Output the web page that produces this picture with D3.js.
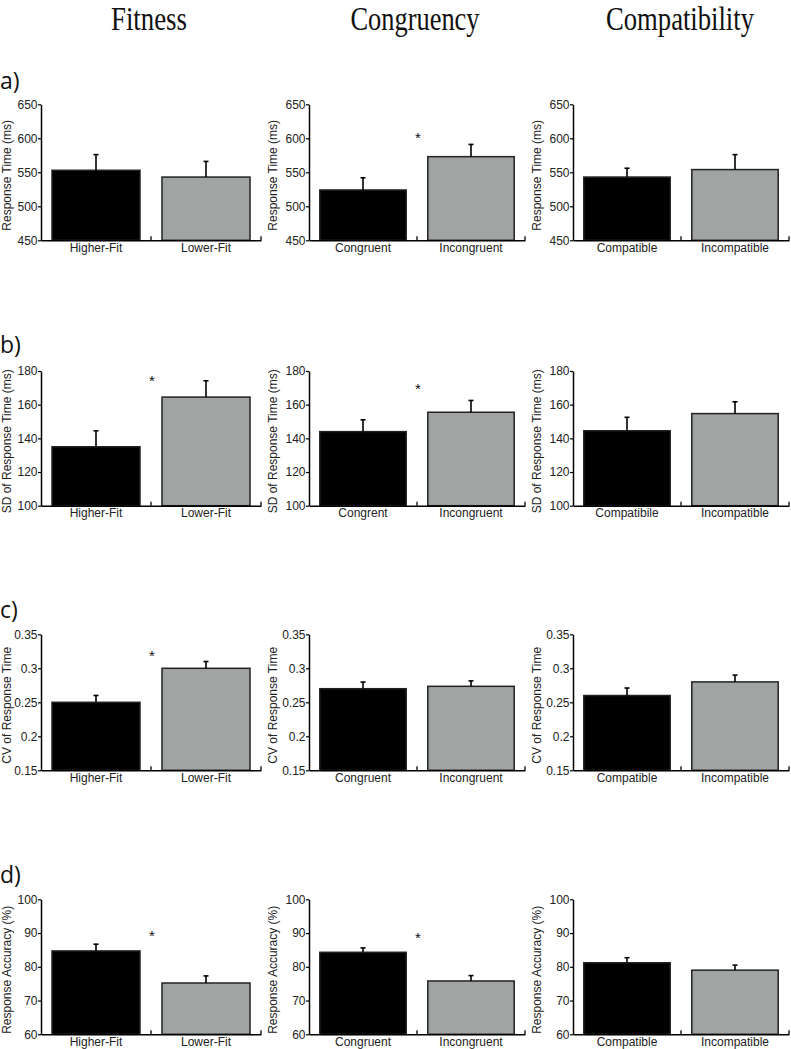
<!DOCTYPE html>
<html><head><meta charset="utf-8">
<script src="https://cdn.jsdelivr.net/npm/d3@7"></script>
<style>body{margin:0;background:#fff}svg{display:block}</style>
</head><body><svg id="c" width="791" height="1049"></svg>
<script>
// ---------- data ----------
const columnTitles = ["Fitness", "Congruency", "Compatibility"];
const rowLabels = ["a)", "b)", "c)", "d)"];
const yTitles = ["Response Time (ms)", "SD of Response Time (ms)", "CV of Response Time", "Response Accuracy (%)"];

const rtTicks = [450, 500, 550, 600, 650];
const sdTicks = [100, 120, 140, 160, 180];
const cvTicks = [0.15, 0.2, 0.25, 0.3, 0.35];
const accTicks = [60, 70, 80, 90, 100];

const fitnessCats = ["Higher-Fit", "Lower-Fit"];
const congruencyCats = ["Congruent", "Incongruent"];
const congruencyCatsSD = ["Congrent", "Incongruent"];
const compatCats = ["Compatible", "Incompatible"];
const compatCatsSD = ["Compatibile", "Incompatible"];

// means & errors, per column: [Fitness, Congruency, Compatibility]
const rtMeans = [[553, 543], [524, 573], [543, 554]];
const rtErrors = [[23, 23], [18, 18], [13, 22]];
const sdMeans = [[135, 164.5], [144, 155.5], [144.5, 154.7]];
const sdErrors = [[9.5, 9.7], [7, 7], [8, 7]];
const cvMeans = [[0.25, 0.30], [0.270, 0.2735], [0.26, 0.28]];
const cvErrors = [[0.010, 0.010], [0.0098, 0.008], [0.011, 0.010]];
const accMeans = [[84.7, 75.2], [84.3, 75.8], [81.2, 79.0]];
const accErrors = [[2.0, 2.1], [1.3, 1.6], [1.5, 1.5]];

// significance star level (null = none)
const rtStars = [null, 605, null];
const sdStars = [176.4, 171.7, null];
const cvStars = [0.324, null, null];
const accStars = [90.3, 89.7, null];

const rows = [
  {ticks: rtTicks, means: rtMeans, errors: rtErrors, stars: rtStars, cats: [fitnessCats, congruencyCats, compatCats]},
  {ticks: sdTicks, means: sdMeans, errors: sdErrors, stars: sdStars, cats: [fitnessCats, congruencyCatsSD, compatCatsSD]},
  {ticks: cvTicks, means: cvMeans, errors: cvErrors, stars: cvStars, cats: [fitnessCats, congruencyCats, compatCats]},
  {ticks: accTicks, means: accMeans, errors: accErrors, stars: accStars, cats: [fitnessCats, congruencyCats, compatCats]}
];

// ---------- layout ----------
const colX = [[41, 261], [309, 525], [573, 789]];
const rowY = [[104.3, 240.3], [371, 505.7], [634.3, 770.3], [899.3, 1034.3]];
const rowLabelY = [89, 353, 618, 883];
const titleX = [149, 415, 680];
const titleW = [76, 129, 148];
const barColors = ["#000000", "#a0a5a3"];
const sans = "'Liberation Sans', Arial, sans-serif";

const svg = d3.select("#c");

// column titles
svg.selectAll("text.ctitle").data(columnTitles).join("text")
  .attr("class", "ctitle")
  .attr("x", (d, i) => titleX[i]).attr("y", 30)
  .attr("text-anchor", "middle")
  .attr("font-family", "'Liberation Serif', 'Times New Roman', serif")
  .attr("font-size", 33)
  .attr("textLength", (d, i) => titleW[i])
  .attr("lengthAdjust", "spacingAndGlyphs")
  .attr("fill", "#111")
  .text(d => d);

// row labels
svg.selectAll("text.rlabel").data(rowLabels).join("text")
  .attr("class", "rlabel")
  .attr("x", 0).attr("y", (d, i) => rowLabelY[i])
  .attr("font-family", "'Open Sans', 'Noto Sans', sans-serif")
  .attr("font-size", 23)
  .attr("fill", "#111")
  .text(d => d);

rows.forEach((row, r) => {
  const y = d3.scaleLinear()
    .domain([row.ticks[0], row.ticks[row.ticks.length - 1]])
    .range([rowY[r][1], rowY[r][0]]);
  for (let c = 0; c < 3; c++) {
    const cats = row.cats[c];
    const x = d3.scaleBand().domain(cats).range(colX[c]).paddingInner(0.2).paddingOuter(0.1);
    const g = svg.append("g");

    // bars
    g.selectAll("rect").data(cats).join("rect")
      .attr("x", d => x(d)).attr("width", x.bandwidth())
      .attr("y", (d, i) => y(row.means[c][i]))
      .attr("height", (d, i) => y.range()[0] - y(row.means[c][i]))
      .attr("fill", (d, i) => barColors[i])
      .attr("stroke", "#222").attr("stroke-width", 1.5);

    // error bars (upper only)
    const eg = g.selectAll("g.err").data(cats).join("g").attr("class", "err");
    eg.append("line")
      .attr("x1", d => x(d) + x.bandwidth() / 2).attr("x2", d => x(d) + x.bandwidth() / 2)
      .attr("y1", (d, i) => y(row.means[c][i]))
      .attr("y2", (d, i) => y(row.means[c][i] + row.errors[c][i]))
      .attr("stroke", "#000").attr("stroke-width", 1.6);
    eg.append("line")
      .attr("x1", d => x(d) + x.bandwidth() / 2 - 2.5).attr("x2", d => x(d) + x.bandwidth() / 2 + 2.5)
      .attr("y1", (d, i) => y(row.means[c][i] + row.errors[c][i]))
      .attr("y2", (d, i) => y(row.means[c][i] + row.errors[c][i]))
      .attr("stroke", "#000").attr("stroke-width", 1.6);

    // y axis
    const ya = g.append("g").attr("transform", `translate(${colX[c][0]},0)`)
      .call(d3.axisLeft(y).tickValues(row.ticks).tickSize(3).tickSizeOuter(0).tickPadding(0.5)
        .tickFormat(d => String(+d.toFixed(2))));
    ya.select(".domain").attr("stroke", "#000").attr("stroke-width", 1.5);
    ya.selectAll(".tick line").attr("stroke", "#000").attr("stroke-width", 1.2);
    ya.selectAll("text").attr("font-family", sans).attr("font-size", 12).attr("fill", "#222");

    // x axis
    const xa = g.append("g").attr("transform", `translate(0,${y.range()[0]})`)
      .call(d3.axisBottom(x).tickSize(0).tickSizeOuter(0).tickPadding(3));
    xa.select(".domain").attr("stroke", "#000").attr("stroke-width", 1.5);
    xa.selectAll("text").attr("font-family", sans).attr("font-size", 12).attr("fill", "#222");
    // boundary ticks (pointing up): between the two bands and at the right end
    const bounds = [x.range()[0] + x.step(), x.range()[1]];
    g.selectAll("line.bt").data(bounds).join("line").attr("class", "bt")
      .attr("x1", d => d).attr("x2", d => d)
      .attr("y1", y.range()[0]).attr("y2", y.range()[0] - 4)
      .attr("stroke", "#000").attr("stroke-width", 1.3);

    // y title
    const tx = Math.max(colX[c][0] - 32, 11);
    g.append("text")
      .attr("transform", `translate(${tx},${(rowY[r][0] + rowY[r][1]) / 2 + 3}) rotate(-90)`)
      .attr("text-anchor", "middle")
      .attr("font-family", sans).attr("font-size", 12).attr("fill", "#222")
      .text(yTitles[r]);

    // significance star
    if (row.stars[c] !== null) {
      g.append("text")
        .attr("x", bounds[0] + 1).attr("y", y(row.stars[c]))
        .attr("dy", "0.57em")
        .attr("text-anchor", "middle")
        .attr("font-family", sans).attr("font-size", 15).attr("fill", "#111")
        .text("*");
    }
  }
});
</script></body></html>
